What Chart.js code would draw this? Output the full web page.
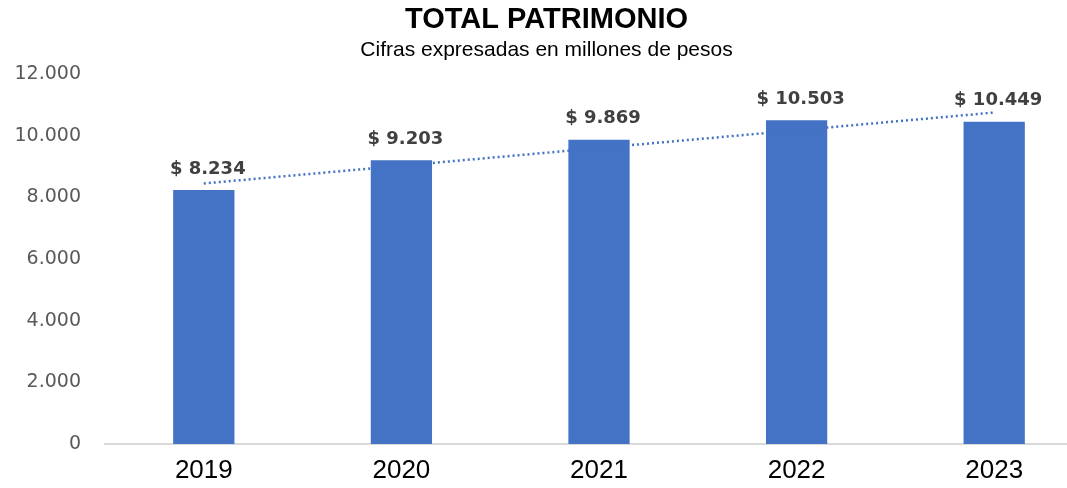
<!DOCTYPE html>
<html>
<head>
<meta charset="utf-8">
<script src="https://cdn.jsdelivr.net/npm/chart.js@4"></script>
<style>
  html, body { margin: 0; padding: 0; background: #fff; overflow: hidden; }
  #wrap { width: 1093px; height: 488px; }
</style>
</head>
<body>
<div id="wrap"><canvas id="patrimonioChart" width="1093" height="488"></canvas></div>
<script>
// datos del grafico
const years = ['2019', '2020', '2021', '2022', '2023'];
const patrimonio = [8234, 9203, 9869, 10503, 10449];
// linea de tendencia (extremos)
const tendencia = [8450, null, null, null, 10750];
const yTicks = [0, 2000, 4000, 6000, 8000, 10000, 12000];

function fmt(v) {
    return String(v).replace(/\B(?=(\d{3})+(?!\d))/g, '.');
}

// etiquetas sobre las barras
const barLabels = {
    id: 'barLabels',
    afterDatasetsDraw(chart) {
        const ctx = chart.ctx;
        const meta = chart.getDatasetMeta(1);
        ctx.save();
        ctx.font = 'bold 18px "DejaVu Sans"';
        ctx.fillStyle = '#404040';
        ctx.textAlign = 'center';
        ctx.textBaseline = 'middle';
        meta.data.forEach((bar, i) => {
            ctx.fillText('$ ' + fmt(patrimonio[i]), bar.x + 4, bar.y - 21);
        });
        ctx.restore();
    }
};

const ctx = document.getElementById('patrimonioChart').getContext('2d');
new Chart(ctx, {
    type: 'bar',
    data: {
        labels: years,
        datasets: [{
            type: 'line',
            data: tendencia,
            spanGaps: true,
            borderColor: '#4472C4',
            borderWidth: 2.5,
            borderDash: [2, 3],
            pointRadius: 0,
            fill: false,
            order: 0
        }, {
            data: patrimonio,
            backgroundColor: '#4472C4',
            barPercentage: 0.62,
            categoryPercentage: 0.5,
            order: 1
        }]
    },
    options: {
        responsive: false,
        animation: false,
        layout: { padding: { left: 0, right: 0, top: 1, bottom: 0 } },
        plugins: {
            legend: { display: false },
            tooltip: { enabled: false },
            title: {
                display: true,
                text: 'TOTAL PATRIMONIO',
                color: '#000',
                font: { family: '"Liberation Sans"', size: 29, weight: 'bold' },
                padding: { top: 2, bottom: 0 }
            },
            subtitle: {
                display: true,
                text: 'Cifras expresadas en millones de pesos',
                color: '#000',
                font: { family: '"Liberation Sans"', size: 21 },
                padding: { top: 0, bottom: 11 }
            }
        },
        scales: {
            x: {
                afterFit(scale) { scale.height = 44; },
                grid: { display: false },
                border: { color: '#d9d9d9', width: 2 },
                ticks: {
                    color: '#000',
                    padding: 3,
                    font: { family: '"Liberation Sans"', size: 26 }
                }
            },
            y: {
                min: 0,
                max: 12000,
                afterBuildTicks(scale) {
                    scale.ticks = yTicks.map(v => ({ value: v }));
                },
                afterFit(scale) { scale.width = 105; },
                grid: { display: false },
                border: { display: false },
                ticks: {
                    color: '#595959',
                    padding: 16,
                    font: { family: '"DejaVu Sans"', size: 19 },
                    callback: v => fmt(v)
                }
            }
        }
    },
    plugins: [barLabels]
});
</script>
</body>
</html>
